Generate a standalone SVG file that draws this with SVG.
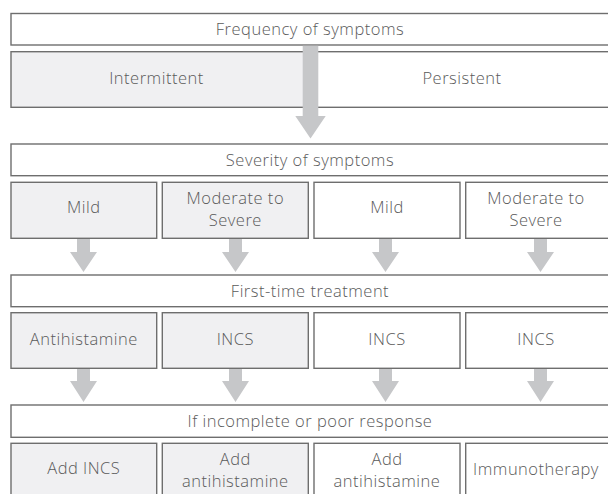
<svg xmlns="http://www.w3.org/2000/svg" width="608" height="494" viewBox="0 0 608 494">
  <style>
    .w { fill: #ffffff; stroke: #6e6e6e; stroke-width: 1.4; }
    .g { fill: #f0f0f2; stroke: #6e6e6e; stroke-width: 1.4; }
    text { font-family: "Open Sans", "Noto Sans", sans-serif; font-size: 16.5px; font-weight: 300; letter-spacing: 0.5px; fill: #5a5a5a; text-anchor: middle; }
    .arrow { fill: #c6c7c9; }
  </style>
  <rect width="608" height="494" fill="#ffffff"/>

  <g id="frequency"><rect class="w" x="11" y="13.5" width="600" height="31.5"/><text x="310" y="35">Frequency of symptoms</text></g>
  <g id="intermittent"><rect class="g" x="11" y="51.7" width="298" height="55.6"/><text x="156.5" y="83.5">Intermittent</text></g>
  <g id="persistent"><rect class="w" x="309" y="51.7" width="302" height="55.6"/><text x="462" y="83.5">Persistent</text></g>

  <g id="severity"><rect class="w" x="11" y="144" width="600" height="31.7"/><text x="310" y="166">Severity of symptoms</text></g>
  <g id="int-mild"><rect class="g" x="11" y="182.3" width="145.7" height="56"/><text x="83.8" y="213">Mild</text></g>
  <g id="int-mod"><rect class="g" x="162.3" y="182.3" width="146" height="56"/><text x="235.3" y="204">Moderate to</text><text x="235.3" y="225.7">Severe</text></g>
  <g id="per-mild"><rect class="w" x="314" y="182.3" width="146" height="56"/><text x="387" y="213">Mild</text></g>
  <g id="per-mod"><rect class="w" x="465.7" y="182.3" width="146" height="56"/><text x="536" y="204">Moderate to</text><text x="536" y="225.7">Severe</text></g>

  <g id="first"><rect class="w" x="11" y="275" width="600" height="31.7"/><text x="310" y="296.5">First-time treatment</text></g>
  <g id="t1"><rect class="g" x="11" y="312.7" width="145.7" height="55.6"/><text x="83.8" y="344.5">Antihistamine</text></g>
  <g id="t2"><rect class="g" x="162.3" y="312.7" width="146" height="55.6"/><text x="235.3" y="344.5">INCS</text></g>
  <g id="t3"><rect class="w" x="314" y="312.7" width="146" height="55.6"/><text x="387" y="344.5">INCS</text></g>
  <g id="t4"><rect class="w" x="465.7" y="312.7" width="146" height="55.6"/><text x="536" y="344.5">INCS</text></g>

  <g id="response"><rect class="w" x="11" y="405" width="600" height="32.3"/><text x="310" y="426.5">If incomplete or poor response</text></g>
  <g id="r1"><rect class="g" x="11" y="443.3" width="145.7" height="60"/><text x="83.8" y="473.5">Add INCS</text></g>
  <g id="r2"><rect class="g" x="162.3" y="443.3" width="146" height="60"/><text x="235.3" y="465">Add</text><text x="235.3" y="486.5">antihistamine</text></g>
  <g id="r3"><rect class="w" x="314" y="443.3" width="146" height="60"/><text x="387" y="465">Add</text><text x="387" y="486.5">antihistamine</text></g>
  <g id="r4"><rect class="w" x="465.7" y="443.3" width="146" height="60"/><text x="536" y="475">Immunotherapy</text></g>

  <g id="connectors" class="arrow">
    <path d="M302.7 45.7 H318.3 V116 H325.7 L310.5 138.5 L295.3 116 H302.7 Z"/>
    <path d="M77 239 H90 V252 H97 L83.5 272 L70 252 H77 Z"/>
    <path d="M229 239 H242 V252 H249 L235.5 272 L222 252 H229 Z"/>
    <path d="M379 239 H392 V252 H399 L385.5 272 L372 252 H379 Z"/>
    <path d="M534 239 H547 V252 H554 L540.5 272 L527 252 H534 Z"/>
    <path d="M77 369 H90 V381 H97 L83.5 402 L70 381 H77 Z"/>
    <path d="M229 369 H242 V381 H249 L235.5 402 L222 381 H229 Z"/>
    <path d="M379 369 H392 V381 H399 L385.5 402 L372 381 H379 Z"/>
    <path d="M534 369 H547 V381 H554 L540.5 402 L527 381 H534 Z"/>
  </g>
</svg>
